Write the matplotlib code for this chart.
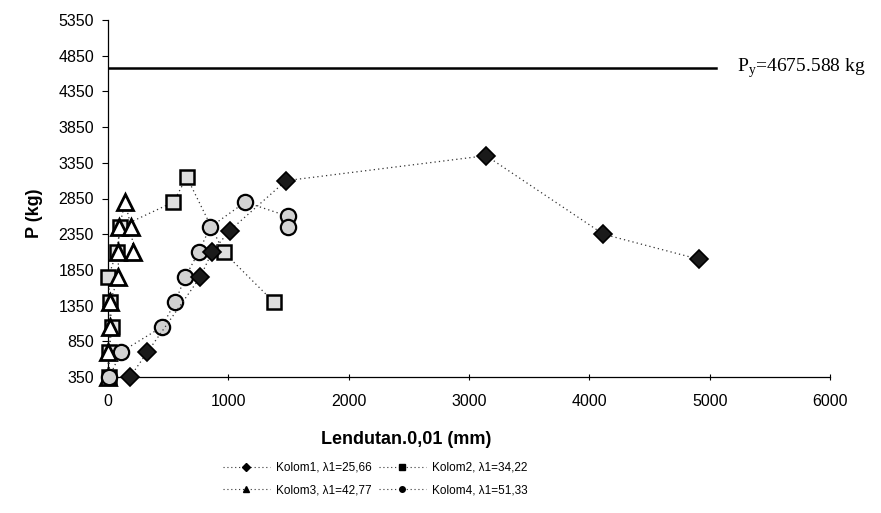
import matplotlib
matplotlib.use('Agg')
import matplotlib.pyplot as plt
from matplotlib.lines import Line2D
import numpy as np

# data (deflection in 0.01 mm, load in kg)
k1_x = [183, 328, 767, 864, 1011, 1480, 3142, 4117, 4908]
k1_y = [350, 700, 1750, 2100, 2400, 3100, 3450, 2350, 2000]

k2_x = [11, 10, 31, 17, 3, 72, 100, 544, 655, 961, 1378]
k2_y = [350, 700, 1050, 1400, 1750, 2100, 2450, 2800, 3150, 2100, 1400]

k3_x = [0, 3, 17, 17, 86, 86, 94, 142, 192, 211]
k3_y = [350, 700, 1050, 1400, 1750, 2100, 2450, 2800, 2450, 2100]

k4_x = [11, 108, 447, 558, 642, 753, 850, 1141, 1497, 1497]
k4_y = [350, 700, 1050, 1400, 1750, 2100, 2450, 2800, 2600, 2450]

labels = ['Kolom1, \u03bb1=25,66', 'Kolom2, \u03bb1=34,22',
          'Kolom3, \u03bb1=42,77', 'Kolom4, \u03bb1=51,33']
Py = 4675.588
py_x = [0, 5050]

plt.rcParams['font.family'] = ['Liberation Sans', 'DejaVu Sans']

fig = plt.figure(figsize=(8.81, 5.13), dpi=100)
ax = fig.add_axes([108/881, 1-377/513, 722/881, 357/513])

ls = (0, (1, 2.5))
ax.plot(k1_x, k1_y, linestyle=ls, color='#333333', lw=0.9, marker='D',
        ms=9, mfc='#1a1a1a', mec='black', mew=1.2, zorder=4, clip_on=False)
ax.plot(k2_x, k2_y, linestyle=ls, color='#333333', lw=0.9, marker='s',
        ms=10, mfc='#dedede', mec='black', mew=1.8, zorder=3, clip_on=False)
ax.plot(k3_x, k3_y, linestyle=ls, color='#333333', lw=0.9, marker='^',
        ms=12, mfc='white', mec='black', mew=2.0, zorder=3, clip_on=False)
ax.plot(k4_x, k4_y, linestyle=ls, color='#333333', lw=0.9, marker='o',
        ms=11, mfc='#d2d2d2', mec='black', mew=1.6, zorder=3, clip_on=False)

# yield load line
ax.plot(py_x, [Py, Py], color='black', lw=1.8, zorder=2)
fig.text(737/881, 1-68/513, 'P$_\\mathregular{y}$=4675.588 kg', fontsize=14,
         family='Liberation Serif', va='center', ha='left')

ax.set_xlim(0, 6000)
ax.set_ylim(350, 5350)
ax.set_xticks(np.arange(0, 6001, 1000))
ax.set_yticks(np.arange(350, 5351, 500))
ax.tick_params(axis='both', labelsize=11.5, length=4, width=0.8)
ax.tick_params(axis='y', pad=6)
ax.tick_params(axis='x', direction='inout', pad=10)
for s in ['top', 'right']:
    ax.spines[s].set_visible(False)
ax.spines['left'].set_linewidth(0.9)
ax.spines['bottom'].set_linewidth(0.9)

ax.set_ylabel('P (kg)', fontsize=13, fontweight='bold')
ax.yaxis.set_label_coords(-0.09, 0.46)
ax.set_xlabel('Lendutan.0,01 (mm)', fontsize=13, fontweight='bold')
ax.xaxis.set_label_coords(0.413, -0.15)

# legend with small markers, row-wise order (ncol fills columns first)
h = [Line2D([], [], linestyle=ls, color='#333333', lw=0.8, marker=m, ms=4,
            mfc='black', mec='black')
     for m in ['D', 's', '^', 'o']]
order = [0, 2, 1, 3]
fig.legend([h[i] for i in order], [labels[i] for i in order], loc='center',
           bbox_to_anchor=(375/881, 1-479/513),
           ncol=2, frameon=False, fontsize=8.5, handlelength=4,
           columnspacing=0.6, handletextpad=0.5, labelspacing=0.9)

fig.savefig('out.png', dpi=100)
